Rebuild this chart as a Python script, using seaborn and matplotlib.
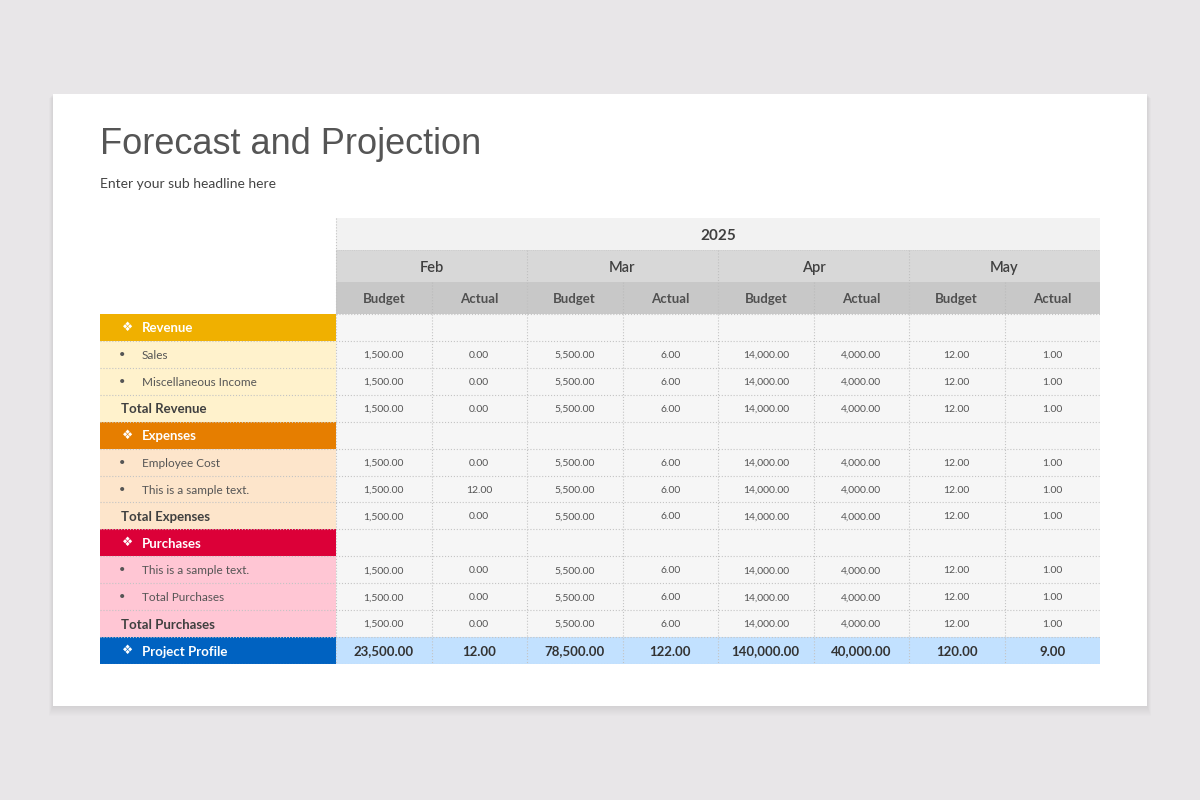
import numpy as np
import pandas as pd
import matplotlib
matplotlib.use("Agg")
import matplotlib.pyplot as plt
from matplotlib.colors import ListedColormap
from matplotlib.patches import Rectangle
import seaborn as sns

# ---------------- data ----------------
year = "2025"
months = ["Feb", "Mar", "Apr", "May"]
sub_cols = ["Budget", "Actual"]

row_labels = ["Revenue", "Sales", "Miscellaneous Income", "Total Revenue",
              "Expenses", "Employee Cost", "This is a sample text.", "Total Expenses",
              "Purchases", "This is a sample text.", "Total Purchases", "Total Purchases",
              "Project Profile"]
row_kinds = ["section", "item", "item", "total",
             "section", "item", "item", "total",
             "section", "item", "item", "total",
             "profit"]
row_group = [0, 0, 0, 0, 1, 1, 1, 1, 2, 2, 2, 2, 3]

sales = [1500, 0, 5500, 6, 14000, 4000, 12, 1]
misc_income = [1500, 0, 5500, 6, 14000, 4000, 12, 1]
total_revenue = [1500, 0, 5500, 6, 14000, 4000, 12, 1]
employee_cost = [1500, 0, 5500, 6, 14000, 4000, 12, 1]
expense_sample = [1500, 12, 5500, 6, 14000, 4000, 12, 1]
total_expenses = [1500, 0, 5500, 6, 14000, 4000, 12, 1]
purchase_sample = [1500, 0, 5500, 6, 14000, 4000, 12, 1]
purchase_item = [1500, 0, 5500, 6, 14000, 4000, 12, 1]
total_purchases = [1500, 0, 5500, 6, 14000, 4000, 12, 1]
project_profile = [23500, 12, 78500, 122, 140000, 40000, 120, 9]

values = [None, sales, misc_income, total_revenue,
          None, employee_cost, expense_sample, total_expenses,
          None, purchase_sample, purchase_item, total_purchases,
          project_profile]

# ---------------- styles ----------------
BG = "#E8E6E8"
section_colors = ["#F0B000", "#E67E00", "#DC0038", "#0062C1"]
light_colors = ["#FFF2CC", "#FDE5CB", "#FFC6D4", "#0062C1"]
cell_color = "#F6F6F6"
profit_cell = "#C2E1FF"
TFONT = ["Lato", "DejaVu Sans"]

sns.set_theme(style="white")
plt.rcParams["font.family"] = TFONT

fig = plt.figure(figsize=(12, 8), dpi=100)
fig.patch.set_facecolor(BG)

# card with soft shadow
for i in range(10):
    d = i + 1
    fig.patches.append(Rectangle(((53 - d * 0.4) / 1200, 1 - (706 + d) / 800),
                                 (1094 + d * 0.8) / 1200, (612 + d * 0.6) / 800,
                                 transform=fig.transFigure, facecolor="black",
                                 alpha=0.008, edgecolor="none", zorder=0))
fig.patches.append(Rectangle((53 / 1200, 1 - 706 / 800), 1094 / 1200, 612 / 800,
                             transform=fig.transFigure, facecolor="white",
                             edgecolor="none", zorder=1))

fig.text(100 / 1200, 1 - 145 / 800, "Forecast and Projection", fontsize=26,
         family=["Liberation Sans", "DejaVu Sans"], color="#555555", va="center", ha="left")
fig.text(100 / 1200, 1 - 184 / 800, "Enter your sub headline here", fontsize=10,
         family=TFONT, color="#444444", va="center", ha="left")

# ---------------- table ----------------
COLW = 95.5
LW = 236 / COLW
HH = 32 / 26.92
top_px, bot_px = 218, 664
ax = fig.add_axes([100 / 1200, 1 - bot_px / 800, 1000 / 1200, (bot_px - top_px) / 800])
ax.set_zorder(2)

ncols = len(months) * len(sub_cols)
kind_code = np.array([[1 if k == "profit" else 0] * ncols for k in row_kinds])
annot = np.array([["" if v is None else f"{x:,.2f}" for x in (v if v is not None else [0] * ncols)]
                  for v in values], dtype=object)
col_index = pd.MultiIndex.from_product([months, sub_cols])
df = pd.DataFrame(kind_code, columns=col_index)

sns.heatmap(df, ax=ax, cmap=ListedColormap([cell_color, profit_cell]), vmin=0, vmax=1,
            cbar=False, annot=annot, fmt="",
            annot_kws={"fontsize": 7.5, "color": "#555555", "family": TFONT})

for t in ax.texts:
    x, y = t.get_position()
    t.set_va("center_baseline")
    if int(y) == len(row_labels) - 1:
        t.set_fontsize(9.5)
        t.set_fontweight("bold")
        t.set_color("#333333")

ax.set_xlim(-LW, ncols)
ax.set_ylim(len(row_labels), -3 * HH)
ax.set_xticks([])
ax.set_yticks([])
ax.set_xlabel("")
ax.set_ylabel("")
for s in ax.spines.values():
    s.set_visible(False)
ax.patch.set_alpha(0)

# header rows
ax.barh([-2.5 * HH], [ncols], left=[0], height=HH, color="#F2F2F2", edgecolor="none")
ax.barh([-1.5 * HH] * len(months), [2] * len(months), left=np.arange(len(months)) * 2,
        height=HH, color="#D8D8D8", edgecolor="none")
ax.barh([-0.5 * HH] * ncols, [1] * ncols, left=np.arange(ncols), height=HH,
        color="#C8C8C8", edgecolor="none")
ax.text(ncols / 2, -2.5 * HH, year, ha="center", va="center_baseline", fontsize=11,
        fontweight="bold", color="#404040")
for i, m in enumerate(months):
    ax.text(i * 2 + 1, -1.5 * HH, m, ha="center", va="center_baseline", fontsize=10.5,
            color="#404040", fontweight="semibold")
for j in range(ncols):
    ax.text(j + 0.5, -0.5 * HH, sub_cols[j % 2], ha="center", va="center_baseline",
            fontsize=9.5, fontweight="bold", color="#505050")

# label column
nrows = len(row_labels)
lab_colors = [section_colors[g] if k in ("section", "profit") else light_colors[g]
              for k, g in zip(row_kinds, row_group)]
ax.barh(np.arange(nrows) + 0.5, [LW] * nrows, left=-LW, height=1, color=lab_colors,
        edgecolor="none")
for i, (lab, k) in enumerate(zip(row_labels, row_kinds)):
    yc = i + 0.5
    if k in ("section", "profit"):
        ax.text(-LW + 0.285, yc, "\u2756", ha="center", va="center", fontsize=9,
                color="white", family=["DejaVu Sans"])
        ax.text(-LW + 0.44, yc, lab, ha="left", va="center_baseline", fontsize=9.5,
                fontweight="bold", color="white")
    elif k == "item":
        ax.text(-LW + 0.23, yc, "\u2022", ha="center", va="center", fontsize=8,
                color="#555555")
        ax.text(-LW + 0.44, yc, lab, ha="left", va="center_baseline", fontsize=8.5,
                color="#555555")
    else:
        ax.text(-LW + 0.22, yc, lab, ha="left", va="center_baseline", fontsize=9.5,
                fontweight="bold", color="#404040")

# grid lines
ax.hlines(np.arange(1, nrows + 1), -LW, ncols, colors="#C4C4C4", linestyles=":", lw=0.8)
ax.hlines([0], 0, ncols, colors="#C4C4C4", linestyles=":", lw=0.8)
ax.vlines(np.arange(0, ncols), 0, nrows, colors="#C4C4C4", linestyles=":", lw=0.8)
ax.vlines([0], -3 * HH, 0, colors="#C4C4C4", linestyles=":", lw=0.8)
ax.vlines([2, 4, 6], -2 * HH, 0, colors="#C0C0C0", linestyles=":", lw=0.8)
ax.vlines([1, 3, 5, 7], -HH, 0, colors="#BBBBBB", linestyles=":", lw=0.8)
ax.hlines([-2 * HH, -HH], 0, ncols, colors="#C8C8C8", linestyles=":", lw=0.6)

fig.savefig("out.png", dpi=100, facecolor=fig.get_facecolor())
